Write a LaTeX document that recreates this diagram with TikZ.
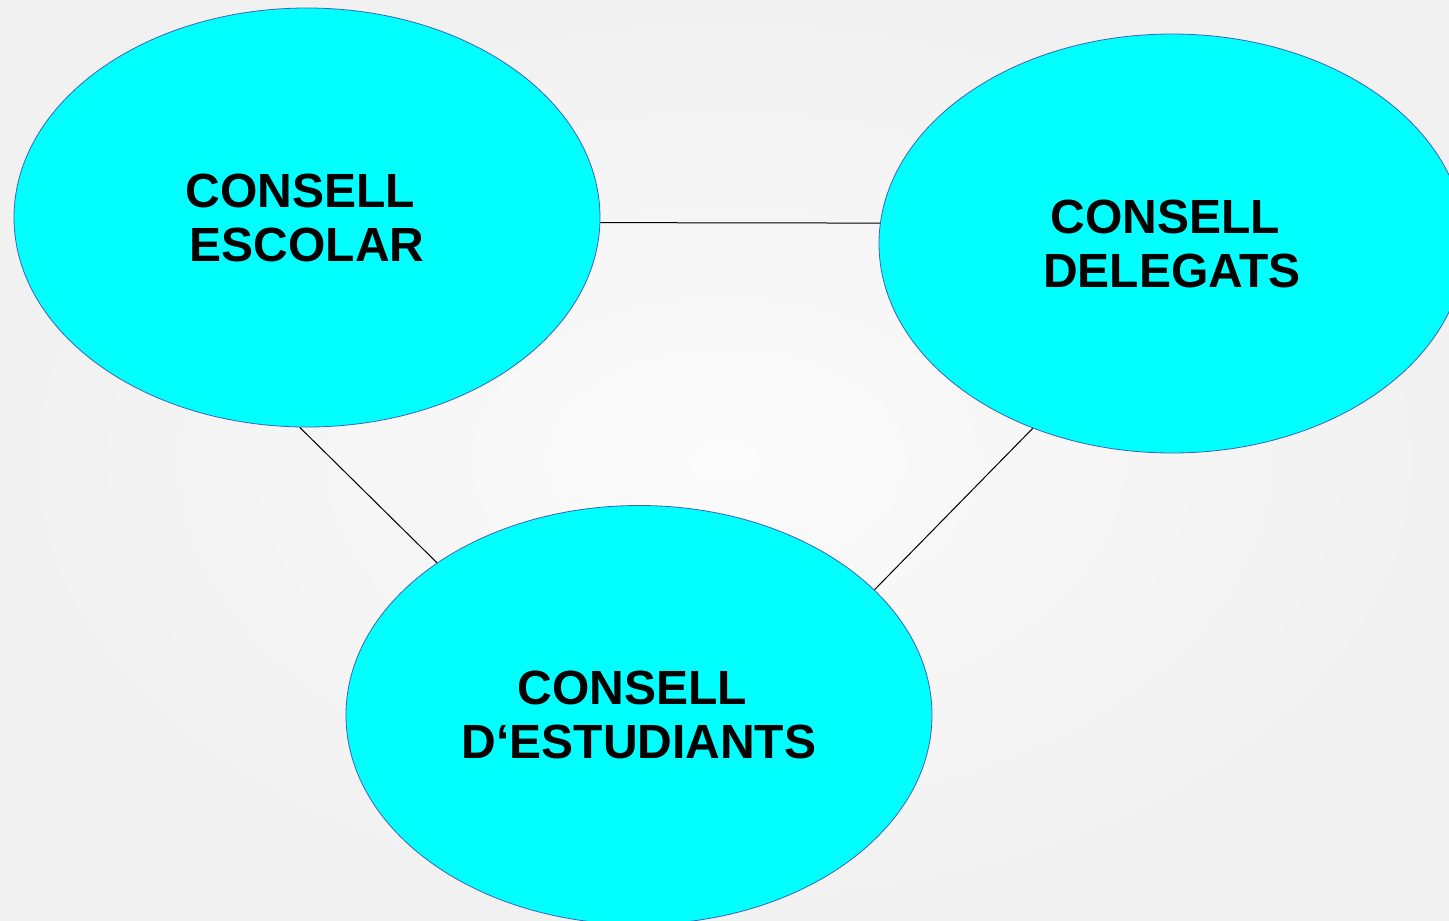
\documentclass[tikz,border=0pt]{standalone}
\usepackage{fontspec}
\setmainfont{Liberation Sans}
\usetikzlibrary{shapes.geometric}
\definecolor{bubble}{RGB}{0,255,255}
\definecolor{rim}{RGB}{60,100,180}
\definecolor{bgin}{RGB}{251,251,251}
\definecolor{bgout}{RGB}{241,241,241}
\tikzset{
  council/.style={ellipse, draw=rim, fill=bubble, line width=0.8pt, inner sep=0pt,
    minimum width=586pt, minimum height=419pt, align=center,
    font=\fontsize{48}{54}\selectfont\bfseries, text=black},
  link/.style={draw=black, line width=1pt}
}
\newcommand{\trail}{\kern0.278em\relax}
\begin{document}
\begin{tikzpicture}[x=1pt,y=-1pt]
\useasboundingbox (0,0) rectangle (1449,921);
\clip (0,0) rectangle (1449,921);
\shade[inner color=bgin, outer color=bgout] (0,0) rectangle (1449,921);
\node[council] (e1) at (307,217.5) {CONSELL\trail\\ESCOLAR};
\node[council] (e2) at (1172,243.5) {CONSELL\trail\\DELEGATS};
\node[council] (e3) at (639,715) {CONSELL\trail\\D‘ESTUDIANTS};
\draw[link] (e1.-1.1) -- (e2.176);
\draw[link] (e1.268.1) -- (e3.143.3);
\draw[link] (e2.233.2) -- (e3.28.1);
\end{tikzpicture}
\end{document}
